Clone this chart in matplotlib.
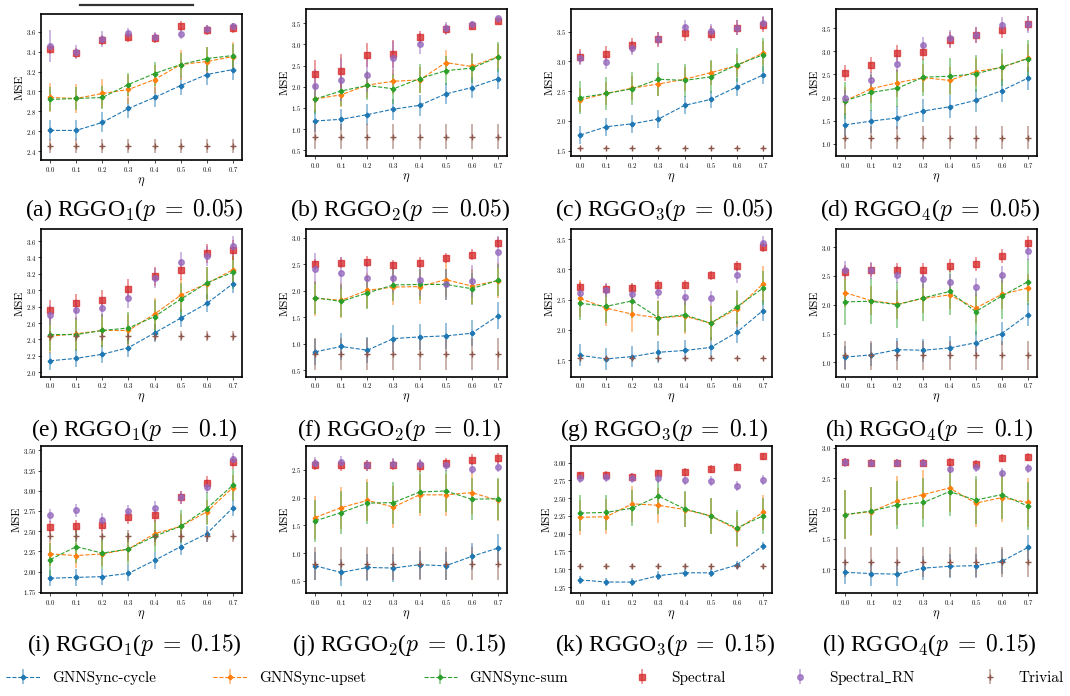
import matplotlib.pyplot as plt
from matplotlib.lines import Line2D
from matplotlib.ticker import MultipleLocator

plt.rcParams['font.family'] = ['cmr10', 'DejaVu Serif']
plt.rcParams['mathtext.fontset'] = 'cm'
plt.rcParams['axes.formatter.use_mathtext'] = True

eta = [0.0, 0.1, 0.2, 0.3, 0.4, 0.5, 0.6, 0.7]
letters = list('abcdefghijkl')
graph_ids = [1, 2, 3, 4] * 3
p_values = ['0.05'] * 4 + ['0.1'] * 4 + ['0.15'] * 4
tick_steps = [0.2, 0.5, 0.5, 0.5, 0.2, 0.5, 0.5, 0.5, 0.25, 0.5, 0.25, 0.5]

# mean MSE, one row per panel (a..l)
cycle = [
    [2.61, 2.61, 2.69, 2.83, 2.94, 3.06, 3.17, 3.22],
    [1.19, 1.23, 1.34, 1.47, 1.56, 1.83, 1.98, 2.19],
    [1.76, 1.90, 1.95, 2.03, 2.26, 2.36, 2.57, 2.77],
    [1.41, 1.49, 1.56, 1.71, 1.80, 1.94, 2.15, 2.42],
    [2.14, 2.17, 2.22, 2.30, 2.48, 2.66, 2.84, 3.08],
    [0.85, 0.95, 0.88, 1.10, 1.13, 1.15, 1.20, 1.53],
    [1.58, 1.52, 1.56, 1.63, 1.66, 1.71, 1.96, 2.32],
    [1.09, 1.13, 1.22, 1.21, 1.25, 1.34, 1.50, 1.83],
    [1.92, 1.93, 1.94, 1.98, 2.14, 2.31, 2.47, 2.79],
    [0.77, 0.65, 0.74, 0.73, 0.79, 0.77, 0.94, 1.09],
    [1.35, 1.32, 1.32, 1.41, 1.45, 1.45, 1.56, 1.83],
    [0.95, 0.93, 0.92, 1.02, 1.05, 1.06, 1.13, 1.36],
]
upset = [
    [2.94, 2.93, 2.98, 3.02, 3.12, 3.27, 3.30, 3.35],
    [1.71, 1.81, 2.04, 2.13, 2.16, 2.57, 2.48, 2.71],
    [2.35, 2.46, 2.55, 2.62, 2.70, 2.81, 2.93, 3.14],
    [1.93, 2.19, 2.32, 2.43, 2.37, 2.56, 2.65, 2.85],
    [2.44, 2.47, 2.51, 2.51, 2.71, 2.94, 3.08, 3.25],
    [1.86, 1.82, 2.01, 2.07, 2.08, 2.21, 2.09, 2.19],
    [2.52, 2.36, 2.26, 2.20, 2.23, 2.11, 2.35, 2.76],
    [2.21, 2.07, 2.01, 2.11, 2.17, 1.94, 2.18, 2.29],
    [2.22, 2.20, 2.22, 2.28, 2.47, 2.56, 2.74, 3.04],
    [1.64, 1.82, 1.95, 1.83, 2.05, 2.05, 2.09, 1.95],
    [2.23, 2.24, 2.42, 2.40, 2.34, 2.25, 2.06, 2.30],
    [1.90, 1.95, 2.13, 2.23, 2.34, 2.09, 2.18, 2.10],
]
gsum = [
    [2.92, 2.93, 2.94, 3.07, 3.18, 3.27, 3.33, 3.36],
    [1.71, 1.90, 2.03, 1.95, 2.19, 2.38, 2.44, 2.70],
    [2.39, 2.46, 2.54, 2.70, 2.68, 2.74, 2.94, 3.11],
    [1.93, 2.11, 2.20, 2.44, 2.46, 2.51, 2.66, 2.84],
    [2.46, 2.46, 2.51, 2.54, 2.68, 2.89, 3.09, 3.22],
    [1.87, 1.80, 1.96, 2.11, 2.12, 2.12, 2.04, 2.20],
    [2.44, 2.39, 2.48, 2.20, 2.25, 2.11, 2.38, 2.69],
    [2.05, 2.06, 2.00, 2.12, 2.23, 1.88, 2.15, 2.40],
    [2.15, 2.31, 2.23, 2.28, 2.44, 2.56, 2.78, 3.07],
    [1.58, 1.73, 1.90, 1.91, 2.10, 2.12, 1.97, 1.98],
    [2.29, 2.30, 2.36, 2.53, 2.35, 2.25, 2.08, 2.25],
    [1.90, 1.96, 2.06, 2.10, 2.28, 2.14, 2.23, 2.04],
]
spectral = [
    [3.43, 3.39, 3.52, 3.55, 3.54, 3.66, 3.62, 3.64],
    [2.29, 2.37, 2.75, 2.78, 3.17, 3.37, 3.44, 3.56],
    [3.08, 3.13, 3.27, 3.37, 3.48, 3.47, 3.57, 3.62],
    [2.53, 2.71, 2.96, 2.99, 3.24, 3.35, 3.46, 3.60],
    [2.76, 2.84, 2.88, 3.02, 3.17, 3.25, 3.45, 3.49],
    [2.50, 2.53, 2.55, 2.49, 2.53, 2.62, 2.68, 2.91],
    [2.71, 2.68, 2.69, 2.75, 2.75, 2.90, 3.06, 3.37],
    [2.57, 2.61, 2.61, 2.61, 2.68, 2.70, 2.84, 3.07],
    [2.55, 2.56, 2.58, 2.67, 2.70, 2.92, 3.10, 3.35],
    [2.59, 2.58, 2.58, 2.59, 2.57, 2.62, 2.68, 2.71],
    [2.82, 2.83, 2.80, 2.85, 2.87, 2.91, 2.94, 3.09],
    [2.77, 2.75, 2.75, 2.75, 2.77, 2.73, 2.83, 2.85],
]
spectral_rn = [
    [3.46, 3.40, 3.53, 3.59, 3.55, 3.58, 3.63, 3.66],
    [2.02, 2.17, 2.27, 2.67, 3.02, 3.38, 3.48, 3.63],
    [3.06, 2.99, 3.23, 3.38, 3.58, 3.51, 3.57, 3.65],
    [1.99, 2.37, 2.73, 3.13, 3.28, 3.35, 3.56, 3.58],
    [2.70, 2.76, 2.79, 2.90, 3.15, 3.35, 3.42, 3.54],
    [2.42, 2.33, 2.25, 2.25, 2.21, 2.12, 2.19, 2.73],
    [2.61, 2.66, 2.59, 2.63, 2.54, 2.53, 2.90, 3.43],
    [2.61, 2.60, 2.52, 2.44, 2.39, 2.31, 2.52, 2.93],
    [2.70, 2.76, 2.64, 2.75, 2.79, 2.92, 3.05, 3.39],
    [2.63, 2.65, 2.58, 2.61, 2.60, 2.58, 2.52, 2.56],
    [2.78, 2.80, 2.79, 2.79, 2.75, 2.74, 2.67, 2.76],
    [2.76, 2.75, 2.75, 2.75, 2.65, 2.68, 2.59, 2.66],
]
trivial = [2.45, 0.82, 1.54, 1.13, 2.44, 0.81, 1.54, 1.12, 2.44, 0.81, 1.54, 1.12]

# error bar half-widths per panel (one value, or one per eta)
cycle_err = [0.10, 0.25, 0.15, 0.25, 0.11, 0.25, 0.18, 0.20, 0.10, 0.25, 0.06, 0.20]
upset_err = [0.15, 0.30, 0.20, 0.30, 0.20, 0.33, 0.30, 0.25, 0.15, 0.38, 0.25, 0.40]
gsum_err = [0.12, 0.35, 0.28, 0.40, 0.20, 0.30, 0.28, 0.40, 0.20, 0.38, 0.25, 0.40]
spectral_err = [0.05,
                [0.35, 0.40, 0.28, 0.33, 0.15, 0.12, 0.08, 0.07],
                0.13, 0.17, 0.12, 0.10, 0.08, 0.12, 0.08, 0.10, 0.05, 0.07]
spectral_rn_err = [[0.16, 0.07, 0.08, 0.05, 0.05, 0.05, 0.04, 0.03],
                   [0.40, 0.50, 0.40, 0.40, 0.25, 0.15, 0.08, 0.05],
                   0.12, 0.18, 0.12, 0.30, 0.12, 0.15, 0.08, 0.10, 0.07, 0.07]
trivial_err = [0.07, 0.30, 0.02, 0.25, 0.06, 0.30, 0.02, 0.25, 0.07, 0.30, 0.03, 0.25]

W, H = 1070, 696
fig = plt.figure(figsize=(W / 100, H / 100), dpi=100)

# axes boxes in pixels: left, top, width, height
col_left = [41, 306, 571, 836]
row_top = [9, 229.5, 446]
boxes = []
for r in range(3):
    for c in range(4):
        boxes.append([col_left[c], row_top[r], 201, 147])
boxes[0] = [41, 14, 201, 146]

styles = [
    ('GNNSync-cycle', 'tab:blue', 'P', 3, '--'),
    ('GNNSync-upset', 'tab:orange', 'P', 3, '--'),
    ('GNNSync-sum', 'tab:green', 'P', 3, '--'),
    ('Spectral', 'tab:red', 's', 4.5, 'none'),
    (r'Spectral$\_$RN', 'tab:purple', 'o', 4, 'none'),
    ('Trivial', 'tab:brown', '+', 4, 'none'),
]

handles = []
for i in range(12):
    l, t, w, h = boxes[i]
    ax = fig.add_axes([l / W, 1 - (t + h) / H, w / W, h / H])
    series = [cycle[i], upset[i], gsum[i], spectral[i], spectral_rn[i], [trivial[i]] * len(eta)]
    errs = [cycle_err[i], upset_err[i], gsum_err[i], spectral_err[i], spectral_rn_err[i], trivial_err[i]]
    for k, (name, col, mk, ms, ls) in enumerate(styles):
        alpha = 0.75 if k in (3, 4) else 1.0
        cont = ax.errorbar(eta, series[k], yerr=errs[k], color=col, marker=mk, markersize=ms,
                           linestyle=ls, linewidth=0.8, elinewidth=1.3, capsize=0,
                           alpha=alpha, label=name)
        for bar in cont.lines[2]:
            bar.set_alpha(0.5)
        if i == 0:
            handles.append(cont)
    ax.set_xticks(eta)
    ax.yaxis.set_major_locator(MultipleLocator(tick_steps[i]))
    ax.tick_params(labelsize=4.8, length=2, width=0.5, pad=1.5)
    for sp in ax.spines.values():
        sp.set_linewidth(1.2)
    ax.set_ylabel('MSE', fontsize=8.5, labelpad=1)
    ax.set_xlabel(r'$\eta$', fontsize=9, labelpad=1)
    cx = (l + w / 2) / W
    cy = {0: 1 - 210 / H, 1: 1 - 430 / H, 2: 1 - 645 / H}[i // 4]
    fig.text(cx - 7 / W, cy,
             f'({letters[i]}) RGGO$_{graph_ids[i]}$($p\\;=\\;{p_values[i]}$)',
             ha='center', va='center', fontsize=17, family='Liberation Serif')

# stray rule above panel (a)
fig.add_artist(Line2D([80 / W, 193 / W], [1 - 5 / H, 1 - 5 / H], color='#333333', linewidth=1.6))

fig.legend(handles=handles, labels=[s[0] for s in styles], loc='center', ncol=6,
           bbox_to_anchor=(0.0, 0.0, 1.0, 0.052), mode='expand', frameon=False,
           fontsize=11, handlelength=2.2, borderaxespad=0)

fig.savefig('out.png', dpi=100)
